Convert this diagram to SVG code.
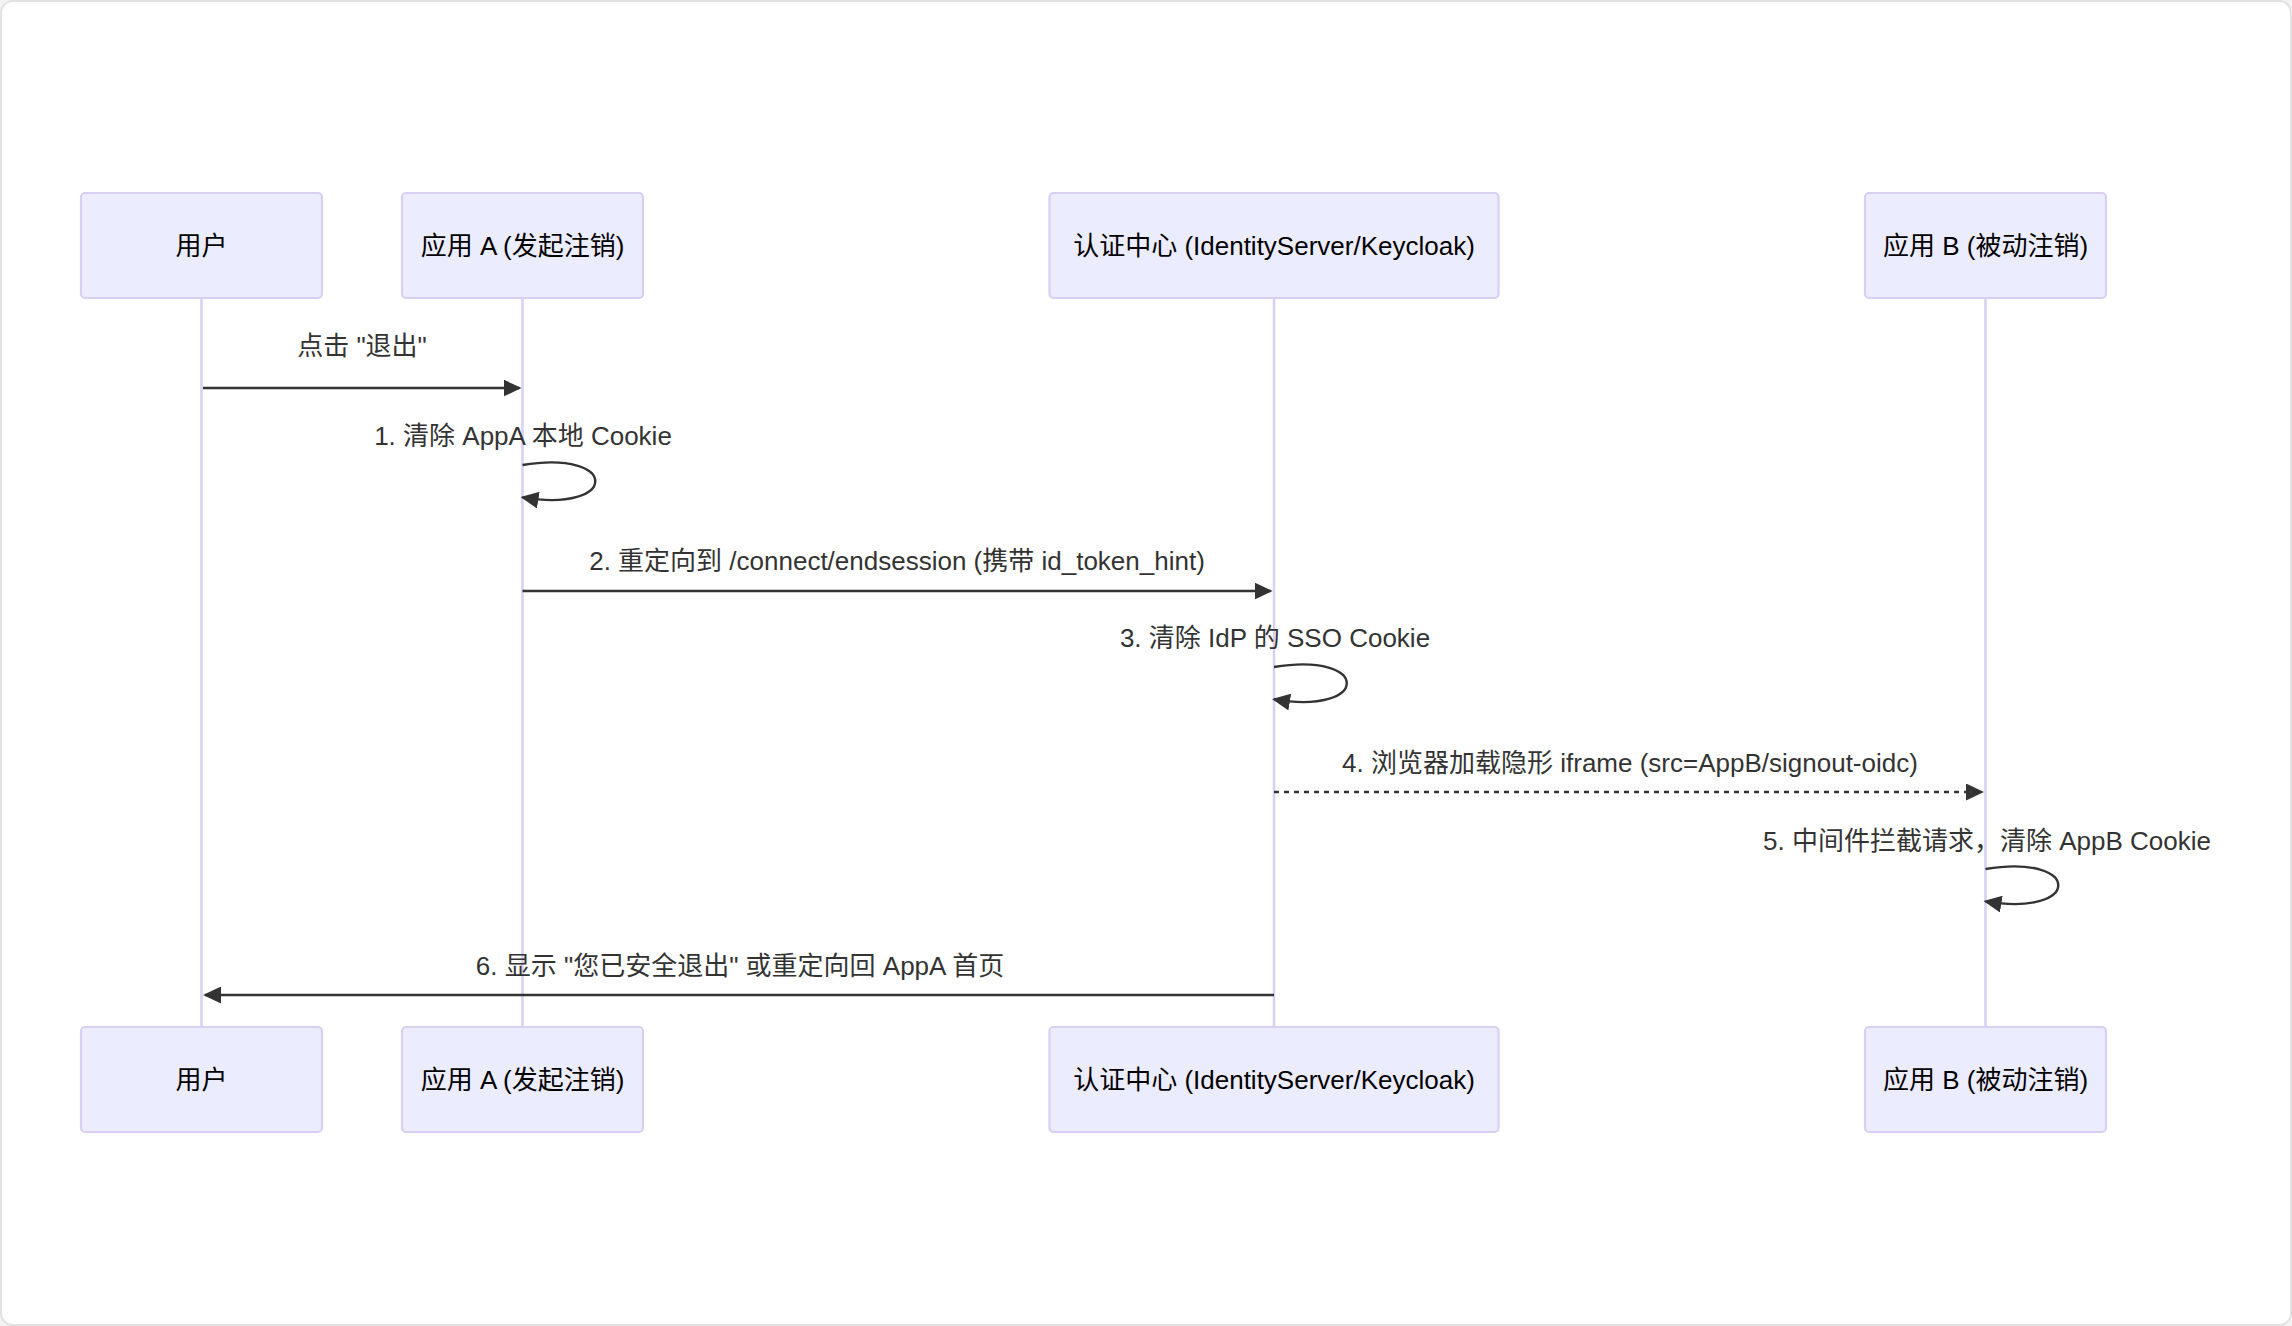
<svg xmlns="http://www.w3.org/2000/svg" width="2292" height="1326" viewBox="0 0 2292 1326">
<style>
.bg{fill:#f3f3f3}
.frame{fill:#ffffff;stroke:#e2e2e2;stroke-width:2}
.actor rect{fill:#ECECFF;stroke:#D9CFF3;stroke-width:2.2}
.actor text{font-family:"Liberation Sans","Noto Sans CJK SC",sans-serif;font-size:26px;fill:#000;text-anchor:middle;dominant-baseline:central}
.lifeline{stroke:#D9CFF3;stroke-width:2.5}
.msg{stroke:#333;stroke-width:2.4;fill:none;marker-end:url(#arrow)}
.dotted{stroke-dasharray:5 5}
.label{font-family:"Liberation Sans","Noto Sans CJK SC",sans-serif;font-size:26px;fill:#333;text-anchor:middle;dominant-baseline:central}
</style>
<defs>
<marker id="arrow" markerUnits="userSpaceOnUse" viewBox="0 0 18 17" markerWidth="18" markerHeight="17" refX="16" refY="8.5" orient="auto">
<path d="M0,0 L18,8.5 L0,17 z" fill="#333"/>
</marker>
</defs>
<rect class="bg" x="0" y="0" width="2292" height="1326"/>
<rect class="frame" x="1" y="1" width="2290" height="1324" rx="12" ry="12"/>
<g id="lifelines">
<line class="lifeline" x1="201.5" y1="298" x2="201.5" y2="1027"/>
<line class="lifeline" x1="522.5" y1="298" x2="522.5" y2="1027"/>
<line class="lifeline" x1="1274" y1="298" x2="1274" y2="1027"/>
<line class="lifeline" x1="1985.5" y1="298" x2="1985.5" y2="1027"/>
</g>
<g id="actor-user" class="actor">
<rect x="81" y="193" width="241" height="105" rx="4"/>
<text x="201.5" y="245.5">用户</text>
<rect x="81" y="1027" width="241" height="105" rx="4"/>
<text x="201.5" y="1079.5">用户</text>
</g>
<g id="actor-appa" class="actor">
<rect x="402" y="193" width="241" height="105" rx="4"/>
<text x="522.5" y="245.5">应用 A (发起注销)</text>
<rect x="402" y="1027" width="241" height="105" rx="4"/>
<text x="522.5" y="1079.5">应用 A (发起注销)</text>
</g>
<g id="actor-idp" class="actor">
<rect x="1049.5" y="193" width="449" height="105" rx="4"/>
<text x="1274" y="245.5">认证中心 (IdentityServer/Keycloak)</text>
<rect x="1049.5" y="1027" width="449" height="105" rx="4"/>
<text x="1274" y="1079.5">认证中心 (IdentityServer/Keycloak)</text>
</g>
<g id="actor-appb" class="actor">
<rect x="1865" y="193" width="241" height="105" rx="4"/>
<text x="1985.5" y="245.5">应用 B (被动注销)</text>
<rect x="1865" y="1027" width="241" height="105" rx="4"/>
<text x="1985.5" y="1079.5">应用 B (被动注销)</text>
</g>
<g id="messages">
<text class="label" x="362" y="346">点击 "退出"</text>
<line class="msg" x1="203" y1="388" x2="519.5" y2="388"/>
<text class="label" x="523" y="436">1. 清除 AppA 本地 Cookie</text>
<path class="msg" d="M522.5,465 C619.5,449 619.5,513.6 522.5,497.4"/>
<text class="label" x="897" y="561">2. 重定向到 /connect/endsession (携带 id_token_hint)</text>
<line class="msg" x1="522.5" y1="591" x2="1270.5" y2="591"/>
<text class="label" x="1275" y="638">3. 清除 IdP 的 SSO Cookie</text>
<path class="msg" d="M1274,667 C1371,651 1371,715.6 1274,699.4"/>
<text class="label" x="1630" y="763">4. 浏览器加载隐形 iframe (src=AppB/signout-oidc)</text>
<line class="msg dotted" x1="1274" y1="792" x2="1982" y2="792"/>
<text class="label" x="1987" y="841">5. 中间件拦截请求，清除 AppB Cookie</text>
<path class="msg" d="M1985.5,869 C2082.5,853 2082.5,917.6 1985.5,901.4"/>
<text class="label" x="740" y="966">6. 显示 "您已安全退出" 或重定向回 AppA 首页</text>
<line class="msg" x1="1274" y1="995" x2="205" y2="995"/>
</g>
</svg>
